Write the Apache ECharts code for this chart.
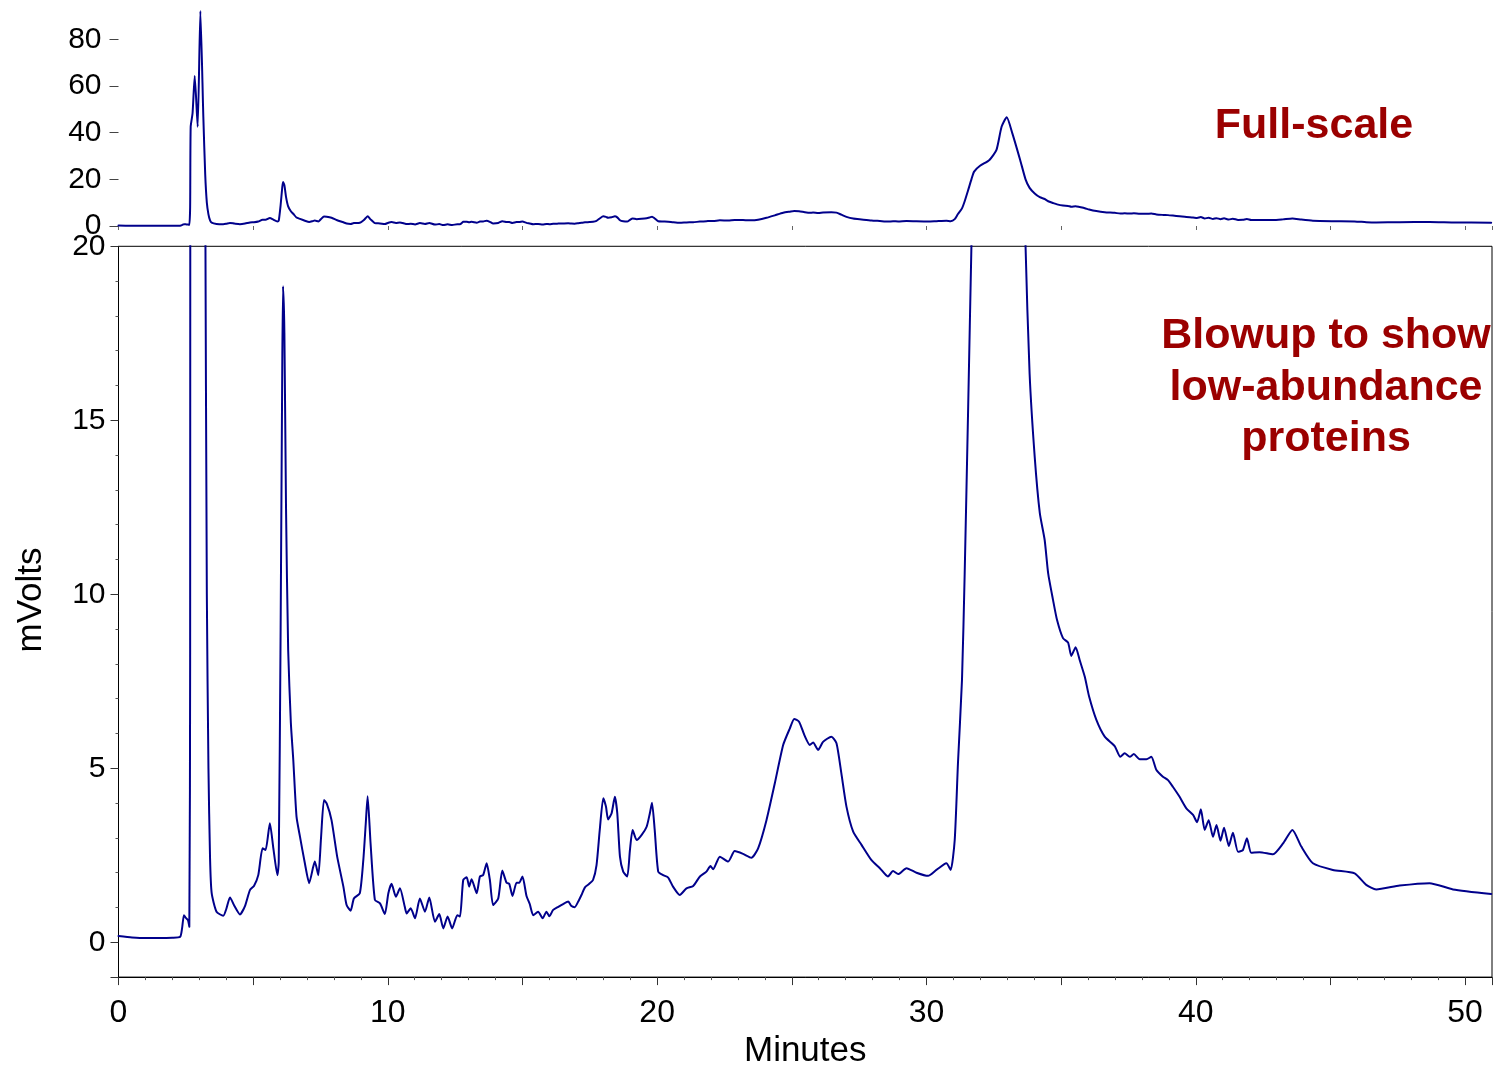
<!DOCTYPE html>
<html>
<head>
<meta charset="utf-8">
<script src="https://cdn.jsdelivr.net/npm/echarts@6/dist/echarts.min.js"></script>
<style>
html,body{margin:0;padding:0;background:#fff;}
#chart{width:1499px;height:1065px;}
</style>
</head>
<body>
<div id="chart"></div>
<script>
// Retention time (minutes) and detector signal (mV)
var minutes = [0.00,0.50,1.00,1.50,2.00,2.29,2.36,2.43,2.50,2.58,2.63,2.66,2.68,2.75,2.83,2.94,3.04,3.15,3.22,3.28,3.34,3.40,3.46,3.64,3.89,4.00,4.14,4.30,4.51,4.70,4.88,5.03,5.19,5.35,5.46,5.62,5.75,5.90,5.95,6.02,6.08,6.11,6.16,6.22,6.30,6.40,6.49,6.61,6.74,6.92,7.08,7.23,7.29,7.42,7.52,7.63,7.73,7.91,8.12,8.35,8.47,8.62,8.74,8.96,9.09,9.18,9.25,9.36,9.52,9.71,9.89,10.02,10.14,10.30,10.45,10.63,10.70,10.85,11.01,11.19,11.38,11.54,11.75,11.91,12.06,12.22,12.39,12.58,12.68,12.80,12.93,13.02,13.11,13.30,13.42,13.54,13.67,13.79,13.91,14.10,14.25,14.41,14.51,14.63,14.78,14.88,15.00,15.15,15.27,15.40,15.58,15.75,15.89,16.00,16.14,16.33,16.51,16.70,16.82,16.94,17.07,17.19,17.32,17.48,17.62,17.75,17.87,18.00,18.10,18.18,18.31,18.43,18.52,18.62,18.74,18.89,18.99,19.09,19.24,19.42,19.61,19.73,19.81,19.91,20.04,20.22,20.41,20.59,20.84,21.09,21.34,21.59,21.83,21.98,22.08,22.33,22.64,22.88,23.19,23.50,23.75,24.06,24.37,24.68,24.93,25.09,25.27,25.48,25.67,25.79,25.98,26.16,26.47,26.66,26.84,27.03,27.28,27.59,27.96,28.27,28.57,28.76,28.95,29.26,29.63,30.06,30.37,30.74,30.90,31.05,31.17,31.32,31.42,31.55,31.67,31.77,31.99,32.34,32.60,32.79,32.98,33.19,33.48,33.68,33.83,34.02,34.21,34.39,34.52,34.70,34.85,35.07,35.26,35.38,35.54,35.69,35.88,36.04,36.31,36.62,36.99,37.20,37.36,37.55,37.70,37.92,38.17,38.35,38.54,38.78,38.97,39.15,39.40,39.65,39.90,40.05,40.19,40.33,40.48,40.64,40.77,40.92,41.05,41.23,41.38,41.57,41.75,41.90,42.06,42.37,42.87,43.24,43.59,43.92,44.35,45.09,45.90,46.33,46.70,47.57,48.68,49.55,50.97];
var mVolts = [0.18,0.14,0.12,0.12,0.13,0.16,0.40,0.78,0.70,0.64,0.45,8.0,42.5,48.3,64.3,42.5,92.1,46.8,22.0,10.0,5.0,2.4,1.41,0.88,0.76,0.95,1.29,1.05,0.80,1.05,1.50,1.62,1.93,2.70,2.65,3.42,2.70,1.93,2.30,9.0,16.5,18.85,17.5,12.5,8.4,6.3,5.24,3.61,3.03,2.27,1.70,2.17,2.32,1.93,3.00,4.09,3.99,3.51,2.46,1.60,1.07,0.91,1.26,1.41,2.36,3.40,4.20,2.84,1.22,1.12,0.81,1.41,1.68,1.31,1.55,1.02,0.83,0.98,0.69,1.26,0.88,1.29,0.59,0.81,0.40,0.74,0.40,0.78,0.74,1.79,1.87,1.60,1.81,1.41,1.89,1.93,2.27,1.79,1.07,1.26,2.06,1.71,1.68,1.33,1.71,1.71,1.89,1.33,1.10,0.78,0.88,0.69,0.88,0.75,0.93,1.02,1.10,1.17,1.04,1.01,1.17,1.36,1.58,1.68,1.79,2.22,3.23,4.14,3.90,3.53,3.71,4.18,3.71,2.46,2.03,1.89,2.65,3.23,2.94,3.08,3.32,3.71,4.01,3.23,2.03,1.93,1.86,1.60,1.36,1.55,1.62,1.89,2.03,2.19,2.10,2.46,2.32,2.62,2.54,2.43,2.70,3.51,4.57,5.67,6.15,6.42,6.34,5.93,5.67,5.74,5.53,5.76,5.91,5.72,4.86,3.90,3.18,2.80,2.36,2.13,1.89,2.05,1.96,2.13,2.00,1.91,2.08,2.27,2.08,2.94,5.14,7.54,10.6,15.4,20.0,23.3,25.8,28.3,32.6,42.5,46.6,39.7,28.3,20.0,16.35,13.95,12.33,11.56,10.6,9.84,9.26,8.74,8.61,8.23,8.48,8.11,7.63,7.06,6.39,5.91,5.64,5.33,5.43,5.33,5.41,5.26,5.26,5.33,4.95,4.76,4.66,4.47,4.18,3.85,3.66,3.45,3.82,3.23,3.51,3.03,3.37,2.92,3.29,2.77,3.15,2.60,2.65,2.99,2.57,2.59,2.53,2.84,3.23,2.75,2.27,2.08,1.98,1.65,1.52,1.63,1.70,1.52,1.39];
var annotationTop = 'Full-scale';
var annotationBottom = 'Blowup to show\nlow-abundance\nproteins';

var trace = minutes.map(function (t, i) { return [t, mVolts[i]]; });

var chart = echarts.init(document.getElementById('chart'), null, {renderer: 'canvas'});
var FONT = 'Liberation Sans, Arial, sans-serif';
var LINE = '#00008B';

chart.setOption({
  animation: false,
  backgroundColor: '#fff',
  grid: [
    {left: 118.5, right: 7, top: 4.3, bottom: 839, containLabel: false, outerBoundsMode: 'none'},
    {left: 118.5, right: 7, top: 246.3, bottom: 87.9, containLabel: false, outerBoundsMode: 'none',
     show: true, borderColor: '#000', borderWidth: 1, backgroundColor: 'transparent'}
  ],
  xAxis: [
    {gridIndex: 0, type: 'value', min: 0, max: 51, interval: 5, offset: 5,
     axisLine: {show: false},
     axisTick: {show: true, length: 4, lineStyle: {color: '#666', width: 1}},
     axisLabel: {show: false}, splitLine: {show: false}},
    {gridIndex: 1, type: 'value', min: 0, max: 51, interval: 5,
     name: 'Minutes', nameLocation: 'middle', nameGap: 50,
     nameTextStyle: {fontFamily: FONT, fontSize: 35, color: '#000'},
     axisLine: {show: true, onZero: false, lineStyle: {color: '#000', width: 1}},
     axisTick: {show: true, length: 8, lineStyle: {color: '#333', width: 1}},
     minorTick: {show: true, splitNumber: 5, length: 3, lineStyle: {color: '#555', width: 1}},
     axisLabel: {show: true, margin: 20, fontFamily: FONT, fontSize: 32, color: '#000',
       showMaxLabel: false,
       formatter: function (v) { return (v % 10 === 0) ? String(v) : ''; }},
     splitLine: {show: false}}
  ],
  yAxis: [
    {gridIndex: 0, type: 'value', min: 0, max: 95, interval: 20,
     axisLine: {show: false},
     axisTick: {show: true, length: 9, lineStyle: {color: '#444', width: 1}},
     axisLabel: {show: true, margin: 17, fontFamily: FONT, fontSize: 30, color: '#000', showMaxLabel: false},
     splitLine: {show: false}},
    {gridIndex: 1, type: 'value', min: -1, max: 20, splitNumber: 4,
     axisLine: {show: true, onZero: false, lineStyle: {color: '#000', width: 1}},
     axisTick: {show: true, length: 8, lineStyle: {color: '#333', width: 1}},
     minorTick: {show: true, splitNumber: 5, length: 3, lineStyle: {color: '#555', width: 1}},
     axisLabel: {show: true, margin: 13, fontFamily: FONT, fontSize: 30, color: '#000', showMinLabel: false},
     splitLine: {show: false}}
  ],
  series: [
    {type: 'line', xAxisIndex: 0, yAxisIndex: 0, data: trace, showSymbol: false, symbol: 'none',
     smooth: 0.2,
     lineStyle: {color: LINE, width: 2, join: 'round', cap: 'round'}, clip: true},
    {type: 'line', xAxisIndex: 1, yAxisIndex: 1, data: trace, showSymbol: false, symbol: 'none',
     smooth: 0.2,
     lineStyle: {color: LINE, width: 2, join: 'round', cap: 'round'}, clip: true}
  ],
  graphic: [
    {type: 'text', x: 1314, y: 126,
     style: {text: annotationTop, font: 'bold 43px ' + FONT, fill: '#9B0000',
       align: 'center', verticalAlign: 'middle'}},
    {type: 'text', x: 1326, y: 388,
     style: {text: annotationBottom, font: 'bold 43px ' + FONT, fill: '#9B0000',
       align: 'center', verticalAlign: 'middle', lineHeight: 51.5}},
    {type: 'text', x: 31, y: 600, rotation: Math.PI / 2,
     style: {text: 'mVolts', font: '35px ' + FONT, fill: '#000',
       align: 'center', verticalAlign: 'middle'}}
  ]
});
</script>
</body>
</html>
